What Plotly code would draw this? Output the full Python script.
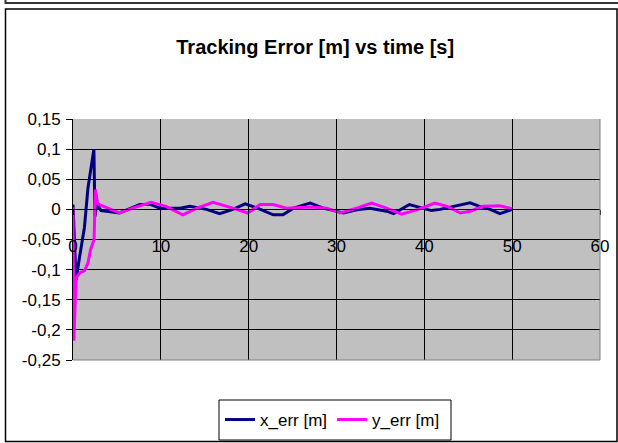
import plotly.graph_objects as go

# ---- data ----
t_x = [0, 0.35, 0.75, 1.3, 1.7, 2.38, 2.5, 2.7, 3.2, 5.3, 7.6, 8.9, 9.9, 12.2, 13.3,
       15.2, 16.7, 18.2, 19.6, 21.0, 22.8, 23.9, 25.1, 27.0, 28.5, 30.0, 30.8, 32.3,
       33.8, 35.7, 36.5, 38.3, 39.7, 40.8, 41.8, 43.6, 45.2, 46.3, 47.5, 48.6, 50.0]
x_err = [0.008, -0.117, -0.079, -0.03, 0.035, 0.1, -0.012, 0.008, -0.002, -0.006, 0.008,
         0.008, 0.002, 0.002, 0.005, 0.0, -0.007, 0.0, 0.009, 0.002, -0.009, -0.009,
         0.002, 0.0105, 0.002, -0.003, -0.006, -0.0006, 0.002, -0.003, -0.007, 0.008,
         0.002, -0.002, 0.0, 0.006, 0.011, 0.005, 0.0, -0.007, 0.0]

t_y = [0, 0.1, 0.35, 0.8, 1.3, 1.7, 2.0, 2.4, 2.55, 2.8, 3.0, 4.2, 5.3, 6.8, 8.9, 10.6,
       12.5, 14.1, 15.95, 18.2, 19.9, 21.3, 22.8, 24.3, 27.0, 28.9, 30.4, 32.3, 34.0,
       35.7, 37.4, 39.3, 41.2, 42.6, 44.1, 45.2, 46.7, 48.6, 50.0]
y_err = [0.003, -0.218, -0.114, -0.105, -0.102, -0.089, -0.067, -0.05, 0.033, 0.01,
         0.008, 0.0, -0.006, 0.002, 0.0116, 0.005, -0.009, 0.002, 0.0116, 0.002, -0.006,
         0.008, 0.008, 0.002, 0.004, 0.002, -0.006, 0.002, 0.0105, 0.002, -0.008, 0.0,
         0.0105, 0.005, -0.006, -0.003, 0.005, 0.006, 0.001]

x_tick_vals = [0, 10, 20, 30, 40, 50, 60]
x_tick_text = ["0", "10", "20", "30", "40", "50", "60"]
y_tick_vals = [0.15, 0.1, 0.05, 0, -0.05, -0.1, -0.15, -0.2, -0.25]
y_tick_text = ["0,15", "0,1", "0,05", "0", "-0,05", "-0,1", "-0,15", "-0,2", "-0,25"]

title_text = "Tracking Error [m] vs time [s]"
name_x = "x_err [m]"
name_y = "y_err [m]"

# ---- layout constants ----
W, H = 618, 443
ML, MR, MT, MB = 73, 18, 119, 83
PW = W - ML - MR
PH = H - MT - MB
FONT = "Liberation Sans, Arial, sans-serif"


def px_x(p):
    return (p - ML) / PW


def px_y(p):
    return (H - MB - p) / PH


fig = go.Figure()
fig.add_trace(go.Scatter(x=t_x, y=x_err, mode="lines", name=name_x,
                         line=dict(color="#000080", width=3)))
fig.add_trace(go.Scatter(x=t_y, y=y_err, mode="lines", name=name_y,
                         line=dict(color="#FF00FF", width=3)))

y0_frac = (0 - (-0.25)) / (0.15 - (-0.25))

fig.update_layout(
    width=W, height=H,
    margin=dict(l=ML, r=MR, t=MT, b=MB, pad=0, autoexpand=False),
    paper_bgcolor="white",
    plot_bgcolor="#C0C0C0",
    font=dict(family=FONT, size=17, color="black"),
    title=dict(text="<b>" + title_text + "</b>", x=0.51, xref="container", xanchor="center",
               y=1 - 47 / H, yref="container", yanchor="middle",
               font=dict(family=FONT, size=20, color="black")),
    showlegend=True,
    legend=dict(orientation="h", xref="container", yref="container",
                x=220 / W, xanchor="left", y=1 - 420 / H, yanchor="middle",
                borderwidth=0, bgcolor="rgba(0,0,0,0)",
                font=dict(family=FONT, size=17, color="black"),
                itemwidth=30, tracegroupgap=0),
    xaxis=dict(range=[0, 60], tickvals=x_tick_vals, ticktext=x_tick_text,
               showgrid=True, gridcolor="black", gridwidth=1,
               zeroline=False, showline=True, linecolor="black", linewidth=1,
               ticks="outside", ticklen=5, tickcolor="black",
               anchor="free", position=y0_frac, ticklabelstandoff=16,
               tickfont=dict(family=FONT, size=17, color="black")),
    yaxis=dict(range=[-0.25, 0.15], tickvals=y_tick_vals, ticktext=y_tick_text,
               showgrid=True, gridcolor="black", gridwidth=1,
               zeroline=False, showline=True, linecolor="black", linewidth=1,
               ticks="outside", ticklen=6, tickcolor="black", ticklabelstandoff=2,
               tickfont=dict(family=FONT, size=17, color="black")),
)

shapes = [
    # plot-area border (right and bottom edges, gray)
    dict(type="line", xref="x domain", yref="y domain", x0=1, x1=1, y0=0, y1=1,
         line=dict(color="#808080", width=1)),
    dict(type="line", xref="x domain", yref="y domain", x0=0, x1=1, y0=0, y1=0,
         line=dict(color="#808080", width=1)),
    # legend box
    dict(type="rect", xref="paper", yref="paper", x0=px_x(219), x1=px_x(451),
         y0=px_y(440), y1=px_y(400), line=dict(color="black", width=1),
         fillcolor="white", layer="below"),
    # outer chart frame
    dict(type="rect", xref="paper", yref="paper", x0=px_x(5.5), x1=px_x(617), y0=px_y(441.5),
         y1=px_y(9), line=dict(color="black", width=1.5)),
    # bottom edge of the previous frame at the top of the picture
    dict(type="rect", xref="paper", yref="paper", x0=px_x(5.5), x1=px_x(625), y0=px_y(3),
         y1=px_y(-10), line=dict(color="#333333", width=2)),
]
fig.update_layout(shapes=shapes)

fig.write_html("out.html")
